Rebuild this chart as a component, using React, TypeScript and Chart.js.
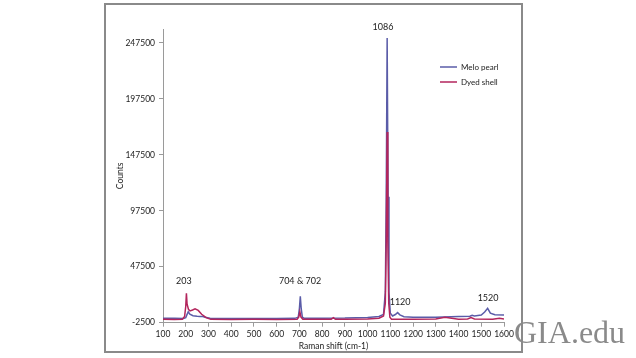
import React, { useEffect, useRef } from "react";
import { Chart, registerables } from "chart.js";

Chart.register(...registerables);

// Melo pearl spectrum (Raman shift, counts)
const meloX = [100, 150, 190, 200, 205, 211, 218, 232, 250, 263, 275, 285, 307, 400, 500, 600, 680, 695, 700, 704, 708, 713, 720, 800, 900, 1000, 1050, 1070, 1078, 1082, 1086, 1090, 1094, 1100, 1110, 1122, 1132, 1142, 1160, 1200, 1300, 1400, 1450, 1460, 1470, 1500, 1515, 1528, 1540, 1560, 1600];
const meloY = [1400, 1400, 1300, 2000, 4500, 7300, 5200, 3800, 3300, 3000, 3000, 2400, 1400, 1300, 1300, 1300, 1400, 2500, 10000, 21000, 10000, 2500, 1500, 1500, 1600, 2200, 3000, 5000, 25000, 110000, 252000, 110000, 25000, 6000, 3500, 4800, 6500, 4500, 2800, 2400, 2300, 3000, 3300, 4200, 3600, 4400, 7000, 10400, 6000, 4600, 4400];

// Dyed shell spectrum (Raman shift, counts)
const dyedX = [100, 150, 185, 195, 200, 203, 206, 212, 219, 230, 241, 255, 270, 290, 310, 400, 500, 600, 690, 697, 702, 707, 715, 800, 840, 850, 858, 900, 1000, 1050, 1070, 1078, 1082, 1086, 1089, 1093, 1098, 1105, 1200, 1300, 1340, 1370, 1400, 1440, 1455, 1470, 1550, 1580, 1600];
const dyedY = [500, 450, 500, 3000, 12000, 23800, 14000, 9500, 8000, 8800, 9800, 8500, 5000, 2000, 500, 450, 500, 450, 600, 2500, 7300, 2500, 600, 500, 600, 2000, 600, 500, 700, 1500, 3500, 15000, 70000, 168000, 70000, 15000, 2500, 600, 500, 800, 2300, 1500, 600, 800, 2000, 800, 500, 1500, 800];

const seriesNames = ["Melo pearl", "Dyed shell"];
const seriesColors = ["#5a5ca8", "#b3255c"];
const yTickValues = [-2500, 47500, 97500, 147500, 197500, 247500];

const peakLabels = ["203", "704 & 702", "1086", "1120", "1520"];
const peakLabelX = [192, 703, 1068, 1143, 1530];
const peakLabelY = [34800, 34800, 262000, 16000, 19700];

const FONT = "Lato, 'Open Sans', sans-serif";

const overlayPlugin = {
  id: "overlay",
  afterDatasetsDraw(chart: any) {
    const { ctx, scales, chartArea } = chart;
    const x = scales.x;
    const y = scales.y;
    ctx.save();
    ctx.fillStyle = "#222";
    ctx.font = `9px ${FONT}`;
    ctx.textAlign = "center";
    ctx.textBaseline = "middle";
    peakLabels.forEach((t, i) => {
      ctx.fillText(t, x.getPixelForValue(peakLabelX[i]), y.getPixelForValue(peakLabelY[i]));
    });
    // legend
    const lx = chartArea.right - 64;
    const ly = chartArea.top + 38;
    ctx.font = `8px ${FONT}`;
    ctx.textAlign = "left";
    chart.data.datasets.forEach((ds: any, i: number) => {
      const yy = ly + i * 15;
      ctx.strokeStyle = ds.borderColor;
      ctx.lineWidth = 1.5;
      ctx.beginPath();
      ctx.moveTo(lx, yy);
      ctx.lineTo(lx + 17, yy);
      ctx.stroke();
      ctx.fillStyle = "#222";
      ctx.fillText(ds.label, lx + 21, yy);
    });
    ctx.restore();
  },
};

export default function App() {
  const ref = useRef<HTMLCanvasElement>(null);
  useEffect(() => {
    if (!ref.current) return;
    const tickFont = { family: FONT, size: 8.5 };
    const chart = new Chart(ref.current, {
      type: "line",
      data: {
        datasets: [
          {
            label: seriesNames[0],
            data: meloX.map((v, i) => ({ x: v, y: meloY[i] })),
            borderColor: seriesColors[0],
            backgroundColor: seriesColors[0],
            borderWidth: 1.5,
            pointRadius: 0,
            tension: 0,
            order: 1,
          },
          {
            label: seriesNames[1],
            data: dyedX.map((v, i) => ({ x: v, y: dyedY[i] })),
            borderColor: seriesColors[1],
            backgroundColor: seriesColors[1],
            borderWidth: 1.5,
            pointRadius: 0,
            tension: 0,
            order: 0,
          },
        ],
      },
      options: {
        animation: false,
        responsive: false,
        maintainAspectRatio: false,
        layout: { padding: { left: 105, right: 132, top: 29, bottom: 0 } },
        plugins: { legend: { display: false }, tooltip: { enabled: false } },
        scales: {
          x: {
            type: "linear",
            min: 100,
            max: 1600,
            ticks: { stepSize: 100, font: tickFont, color: "#222", padding: 2, maxRotation: 0, autoSkip: false, callback: (v: any) => String(v) },
            grid: { drawOnChartArea: false, drawTicks: true, tickLength: 4, color: "#9a9a9a" },
            border: { color: "#9a9a9a", width: 1 },
            title: { display: true, text: "Raman shift (cm-1)", font: tickFont, color: "#222", padding: { top: 0, bottom: 6.6 } },
            afterFit: (s: any) => {
              s.height = 35.3;
            },
          },
          y: {
            type: "linear",
            min: -2500,
            max: 260000,
            afterBuildTicks: (axis: any) => {
              axis.ticks = yTickValues.map((v) => ({ value: v }));
            },
            ticks: { font: tickFont, color: "#222", padding: 4, callback: (v: any) => String(v) },
            grid: { drawOnChartArea: false, drawTicks: true, tickLength: 4, color: "#9a9a9a" },
            border: { color: "#9a9a9a", width: 1 },
            title: { display: true, text: "Counts", font: tickFont, color: "#222", padding: { top: 10.6, bottom: 0 } },
            afterFit: (s: any) => {
              s.width = 58;
            },
          },
        },
      },
      plugins: [overlayPlugin],
    });
    return () => chart.destroy();
  }, []);

  return (
    <div style={{ position: "fixed", left: 0, top: 0, width: 636, height: 358, background: "#fff", overflow: "hidden" }}>
      <div
        style={{
          position: "absolute",
          left: 104,
          top: 3,
          width: 419,
          height: 350,
          border: "2px solid #8a8a8a",
          boxSizing: "border-box",
        }}
      />
      <canvas ref={ref} width={636} height={358} style={{ position: "absolute", left: 0, top: 0, width: 636, height: 358 }} />
      <div
        style={{
          position: "absolute",
          left: 514,
          top: 316,
          fontFamily: "'Liberation Serif', serif",
          fontSize: 32,
          lineHeight: "32px",
          color: "#8a8a8a",
          whiteSpace: "nowrap",
        }}
      >
        GIA.edu
      </div>
    </div>
  );
}
